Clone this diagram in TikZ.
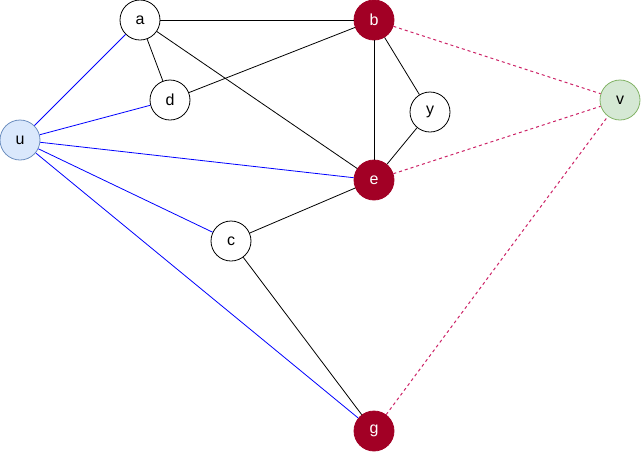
\documentclass[tikz,border=0pt]{standalone}
\usepackage{fontspec}
\setmainfont{Liberation Sans}
\usepackage{xcolor}
\definecolor{crimson}{HTML}{A20025}
\definecolor{dashpink}{HTML}{CC2266}
\definecolor{ublue}{HTML}{DAE8FC}
\definecolor{ubluedraw}{HTML}{6C8EBF}
\definecolor{vgreen}{HTML}{D5E8D4}
\definecolor{vgreendraw}{HTML}{82B366}
\tikzset{
    vertex/.style={circle, draw=black, fill=white, minimum size=40pt, inner sep=0pt, line width=0.8pt, font=\fontsize{16}{18}\selectfont},
    hot/.style={vertex, draw=crimson, fill=crimson, text=white},
    blueedge/.style={draw=blue},
    dashedge/.style={draw=dashpink, line width=1pt, dash pattern=on 3pt off 3pt},
}

\begin{document}
\begin{tikzpicture}[x=1pt, y=-1pt, line width=0.8pt]
            \useasboundingbox (0,0) rectangle (641,451);
            % vertices
            \node [vertex] (a) at (140,20) {a};
            \node [hot] (b) at (374,20) {b};
            \node [vertex] (d) at (170,100) {d};
            \node [vertex] (y) at (430,112) {y};
            \node [vertex, draw=ubluedraw, fill=ublue] (u) at (20,140) {u};
            \node [vertex, draw=vgreendraw, fill=vgreen] (v) at (620,100) {v};
            \node [hot] (e) at (374,180) {e};
            \node [vertex] (c) at (231,241) {c};
            \node [hot] (g) at (374,431) {g};
            % edges from u
            \foreach \w in {a,d,e,c,g}
                \draw [blueedge] (u) -- (\w);
            % black edges
            \draw (a) -- (b);
            \draw (a) -- (d);
            \draw (a) -- (e);
            \draw (d) -- (b);
            \draw (b) -- (y);
            \draw (b) -- (e);
            \draw (y) -- (e);
            \draw (e) -- (c);
            \draw (c) -- (g);
            % dashed edges to v
            \foreach \w in {b,e,g}
                \draw [dashedge] (\w) -- (v);
        \end{tikzpicture}
\end{document}
